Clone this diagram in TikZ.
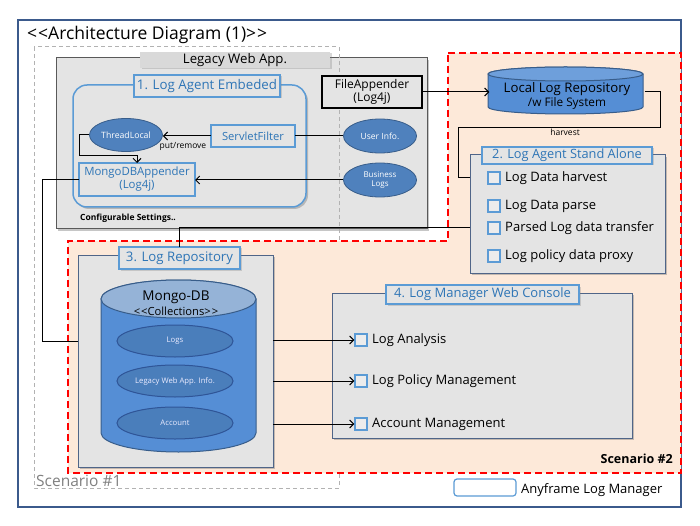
\documentclass[tikz,border=0pt]{standalone}
\usepackage{fontspec}
\setmainfont{Open Sans}
\usetikzlibrary{shapes.geometric,shadows,arrows.meta}

\definecolor{framecol}{HTML}{3B5A8C}
\definecolor{panelgray}{HTML}{E4E4E4}
\definecolor{panelline}{HTML}{4F6588}
\definecolor{tabblue}{HTML}{5B9BD5}
\definecolor{textblue}{HTML}{2E75B6}
\definecolor{ellfill}{HTML}{4F81BD}
\definecolor{ellline}{HTML}{385D8A}
\definecolor{cylfill}{HTML}{558ED5}
\definecolor{cyltop}{HTML}{95B3D7}
\definecolor{collfill}{HTML}{4A7EBB}
\definecolor{collline}{HTML}{2F5597}
\definecolor{peach}{HTML}{FDE9D9}

\tikzset{
  panel/.style={rectangle, draw=panelline, fill=panelgray, line width=1pt,
    inner sep=0pt, outer sep=0pt, anchor=north west,
    drop shadow={shadow xshift=2pt, shadow yshift=-2pt, opacity=.45}},
  tabbox/.style={rectangle, draw=tabblue, fill=panelgray, line width=1.2pt,
    text=textblue, inner sep=0pt, outer sep=0pt,
    drop shadow={shadow xshift=1.5pt, shadow yshift=-1.5pt, opacity=.3}},
  bluebox/.style={rectangle, draw=tabblue, fill=panelgray, line width=1.2pt,
    text=textblue, align=center, inner sep=0pt, outer sep=0pt},
  blob/.style={ellipse, draw=ellline, fill=ellfill, text=white, align=center,
    inner sep=0pt, line width=0.8pt},
  coll/.style={ellipse, draw=collline, fill=collfill, text=white!92!blue,
    inner sep=0pt, line width=1pt, minimum width=116, minimum height=32,
    font=\fontsize{7.7}{9}\selectfont},
  chk/.style={rectangle, draw=tabblue, fill=white!85!gray, line width=1.2pt,
    minimum size=12, inner sep=0pt},
  item/.style={anchor=west, inner sep=0pt, font=\fontsize{13}{15}\selectfont},
  lbl/.style={inner sep=1pt, font=\fontsize{8.5}{10}\selectfont},
  wire/.style={line width=1pt},
  arrow/.style={wire, -{Straight Barb[length=4pt,width=8pt]}},
}

\begin{document}
\begin{tikzpicture}[x=1pt,y=-1pt]
\useasboundingbox (0,0) rectangle (700,526);

% outer frame and title
\draw[framecol, line width=1.2pt] (18,20) rectangle (681,507);
\node[anchor=west, inner sep=0pt, font=\fontsize{17.5}{20}\selectfont] (title) at (27,35) {<\kern1pt<Architecture Diagram (1)>\kern1pt>};

% legacy web app
\node[panel, draw=gray!70!black, minimum width=371, minimum height=171] (legacy) at (56,58) {};
\node[rectangle, fill=gray!30, inner sep=0pt, minimum width=190, minimum height=16,
  drop shadow={shadow xshift=1.5pt, shadow yshift=-1.5pt, opacity=.3},
  font=\fontsize{13.2}{15}\selectfont] (legacytab) at (235,60) {Legacy Web App.};

% scenario #1
\draw[gray!60, line width=1pt, dash pattern=on 4pt off 3pt] (34,47) rectangle (339,488);
\node[anchor=west, inner sep=0pt, text=gray, font=\fontsize{15.5}{17}\selectfont] (scen1) at (36,481) {Scenario \#1};

% scenario #2
\draw[red, line width=2pt, dash pattern=on 7pt off 4pt, fill=peach]
  (448,53) -- (681,53) -- (681,473) -- (68,473) -- (68,241) -- (448,241) -- cycle;
\node[anchor=east, inner sep=0pt, font=\bfseries\fontsize{12.5}{14}\selectfont] (scen2) at (673,459) {Scenario \#2};

% 1. log agent embeded
\node[panel, draw=tabblue, line width=1.5pt, rounded corners=14pt, minimum width=233, minimum height=122] (agent1) at (73,85) {};
\node[tabbox, minimum width=146, minimum height=22, font=\fontsize{13.3}{15}\selectfont] (tab1) at (207,86) {1. Log Agent Embeded};
\node[blob, minimum width=73, minimum height=33, font=\fontsize{8.7}{10}\selectfont] (thread) at (126,135) {ThreadLocal};
\node[bluebox, minimum width=84, minimum height=22, font=\fontsize{11.2}{13}\selectfont] (servlet) at (253,136) {ServletFilter};
\node[bluebox, minimum width=116, minimum height=33, font=\fontsize{11.4}{13}\selectfont] (mongoapp) at (137,179.5) {MongoDBAppender\\(Log4j)};
\node[lbl] (putlbl) at (183,146) {put/remove};
\node[anchor=west, inner sep=0pt, font=\bfseries\fontsize{8.5}{10}\selectfont] (conf) at (80,218) {Configurable Settings..};

\node[rectangle, draw=black, line width=1.5pt, fill=panelgray, minimum width=100, minimum height=32,
  align=center, font=\fontsize{12}{13.5}\selectfont] (fileapp) at (372,92) {FileAppender\\(Log4j)};
\node[blob, minimum width=73, minimum height=34, font=\fontsize{8.5}{10}\selectfont] (userinfo) at (380,136) {User Info.};
\node[blob, minimum width=73, minimum height=34, font=\fontsize{8}{9.5}\selectfont] (bizlogs) at (380,180) {Business\\Logs};

% local log repository
\draw[draw=ellline, fill=cylfill, line width=1pt]
  (488,74) -- (488,107) arc (180:0:77.5 and 7) -- (643,74) arc (0:-180:77.5 and 7) -- cycle;
\draw[draw=ellline, fill=cylfill!85!white, line width=1pt] (565.5,74) ellipse (77.5 and 7);
\node[inner sep=0pt, minimum width=155, align=center] (llr) at (567,95.5)
  {\fontsize{13.2}{15}\selectfont Local Log Repository\\[1pt]\fontsize{11.8}{13}\selectfont /w File System};

% 2. log agent stand alone
\node[panel, minimum width=195, minimum height=118] (box2) at (470,155) {};
\node[tabbox, minimum width=170, minimum height=17, font=\fontsize{12.8}{14}\selectfont] (tab2) at (567,155.5) {2. Log Agent Stand Alone};
\node[chk] (c21) at (494,178) {};
\node[item] (i21) at (505,178) {Log Data harvest};
\node[chk] (c22) at (494,206) {};
\node[item] (i22) at (505,206) {Log Data parse};
\node[chk] (c23) at (494,228) {};
\node[item] (i23) at (505,228) {Parsed Log data transfer};
\node[chk] (c24) at (494,256) {};
\node[item] (i24) at (505,256) {Log policy data proxy};

% 3. log repository
\node[panel, minimum width=195, minimum height=212] (box3) at (78,255) {};
\node[tabbox, minimum width=121, minimum height=22, font=\fontsize{13.2}{15}\selectfont] (tab3) at (179.5,258) {3. Log Repository};
\draw[draw=ellline, fill=cylfill, line width=1pt]
  (101,299) -- (101,433) arc (180:0:77.5 and 19) -- (256,299) arc (0:-180:77.5 and 19) -- cycle;
\draw[draw=ellline, fill=cyltop, line width=1pt] (178.5,299) ellipse (77.5 and 19);
\node[inner sep=0pt, font=\fontsize{13.5}{15}\selectfont] (mongodb) at (176,297) {Mongo-DB};
\node[inner sep=0pt, font=\fontsize{11.2}{13}\selectfont] (colls) at (176,311) {<\kern1pt<Collections>\kern1pt>};
\node[coll] (logs) at (175,341) {Logs};
\node[coll] (lwai) at (175,381) {Legacy Web App. Info.};
\node[coll] (acct) at (175,423) {Account};

% 4. log manager web console
\node[panel, minimum width=300, minimum height=145] (box4) at (332,293) {};
\node[tabbox, minimum width=193, minimum height=19, font=\fontsize{13}{15}\selectfont] (tab4) at (482.5,294.5) {4. Log Manager Web Console};
\node[chk] (c41) at (361,340) {};
\node[item] (i41) at (372,340) {Log Analysis};
\node[chk] (c42) at (361,381) {};
\node[item] (i42) at (372,381) {Log Policy Management};
\node[chk] (c43) at (361,424) {};
\node[item] (i43) at (372,424) {Account Management};

% legend
\node[rectangle, rounded corners=3pt, draw=tabblue, line width=1.2pt, fill=white,
  minimum width=62, minimum height=17, inner sep=0pt] (legend) at (485,487.5) {};
\node[item] (legendtxt) at (521,490) {Anyframe Log Manager};

% connectors
\coordinate (tbend) at (137,156);
\coordinate (hv1) at (660,128);
\coordinate (hv2) at (458,178);
\draw[arrow] (servlet.west) -- (servlet.west -| thread.east);
\draw[wire] (userinfo.west) -- (servlet.east);
\draw[arrow] (bizlogs.west) -- (bizlogs.west -| mongoapp.east);
\draw[arrow] (thread.west) -- ++(-10,0) |- (tbend) -- (mongoapp.north);
\draw[arrow] (fileapp.east) -- (fileapp.east -| llr.west);
\draw[wire] (llr.east |- fileapp.east) -| (hv1) -- node[lbl, below, pos=0.47] {harvest} (hv1 -| hv2) -- (hv2) -- (hv2 -| box2.west);
\draw[wire] (box2.west |- c23) -| (tab3.north);
\draw[wire] (mongoapp.west) -- ++(-37,0) |- (box3.west |- logs);
\draw[arrow] (c41 -| box3.east) -- (c41.west);
\draw[arrow] (c42 -| box3.east) -- (c42.west);
\draw[arrow] (c43 -| box3.east) -- (c43.west);

\end{tikzpicture}
\end{document}
